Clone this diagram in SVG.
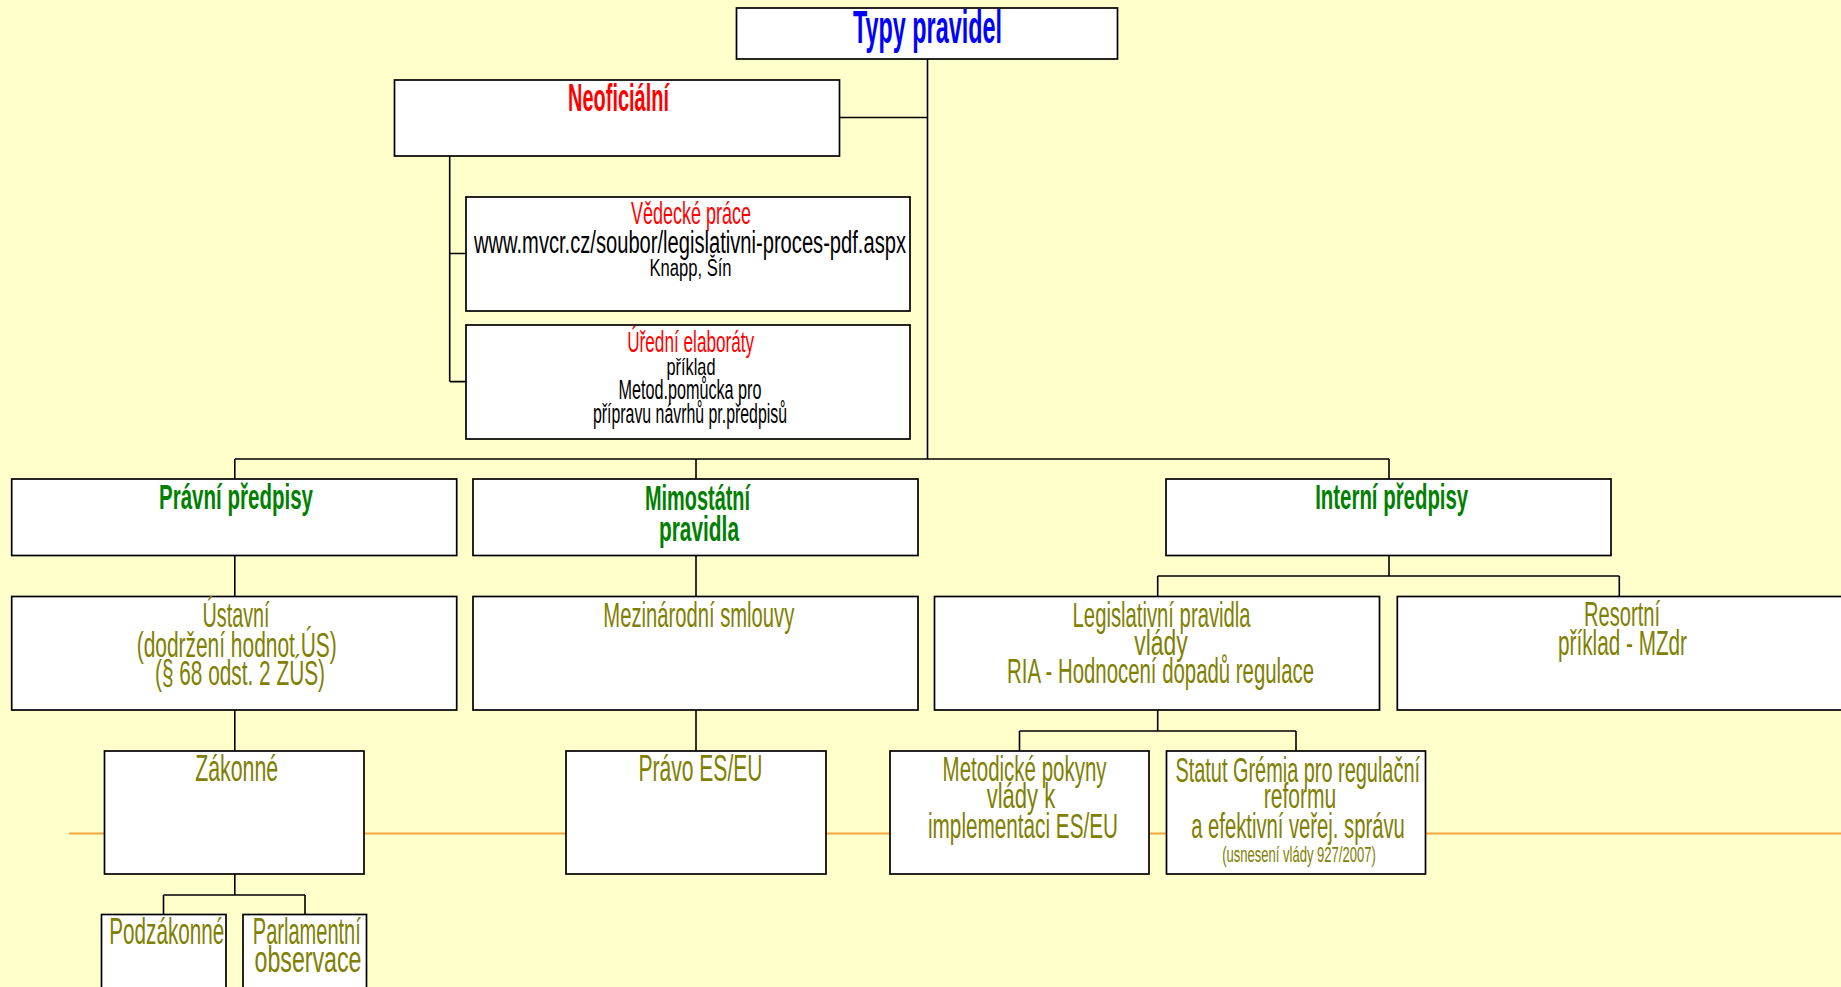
<svg xmlns="http://www.w3.org/2000/svg" width="1841" height="987" viewBox="0 0 1841 987">
<style>
.box{fill:#fff;stroke:#000;stroke-width:1.7}
.ln{fill:none;stroke:#000;stroke-width:1.6}
text{font-family:"Liberation Sans",Arial,sans-serif;text-anchor:middle}
.b{font-weight:bold}
.blue{fill:#0000ff}
.red{fill:#ff0000}
.grn{fill:#008000}
.olv{fill:#808000}
.blk{fill:#000}
</style>
<rect x="0" y="0" width="1841" height="987" fill="#ffffcc"/>
<line x1="69" y1="833.5" x2="1841" y2="833.5" stroke="#f2a63a" stroke-width="2"/>

<g id="connectors">
<path class="ln" d="M927.5 59V459M839.5 117.5H927.5"/>
<path class="ln" d="M449.7 156V381.6M449.7 253.5H466M449.7 381.6H466"/>
<path class="ln" d="M234.8 459H1389M234.8 459V479M696 459V479M1389 459V479"/>
<path class="ln" d="M234.8 555.5V596.5M696 555.5V596.5"/>
<path class="ln" d="M1389 555.5V576M1157.7 576H1619.3M1157.7 576V596.5M1619.3 576V596.5"/>
<path class="ln" d="M234.8 710V751M696 710V751"/>
<path class="ln" d="M1157.7 710V731M1019.5 731H1296M1019.5 731V751M1296 731V751"/>
<path class="ln" d="M234.8 874V895M163.5 895H305M163.5 895V914.5M305 895V914.5"/>
</g>

<g id="typy">
<rect class="box" x="736.5" y="8" width="381" height="51"/>
<text class="b blue" x="927.5" y="43" font-size="46" textLength="149" lengthAdjust="spacingAndGlyphs">Typy pravidel</text>
</g>

<g id="neoficialni">
<rect class="box" x="394.5" y="80" width="445" height="76"/>
<text class="b red" x="618.5" y="111" font-size="38" textLength="101" lengthAdjust="spacingAndGlyphs">Neoficiální</text>
</g>

<g id="vedecke">
<rect class="box" x="466" y="197" width="444" height="114"/>
<text class="red" x="691" y="224" font-size="32" textLength="120" lengthAdjust="spacingAndGlyphs">Vědecké práce</text>
<text class="blk" x="690" y="252.5" font-size="31" textLength="432" lengthAdjust="spacingAndGlyphs">www.mvcr.cz/soubor/legislativni-proces-pdf.aspx</text>
<text class="blk" x="690.5" y="276" font-size="23" textLength="82" lengthAdjust="spacingAndGlyphs">Knapp, Šín</text>
</g>

<g id="uredni">
<rect class="box" x="466" y="325" width="444" height="114"/>
<text class="red" x="690.7" y="351.7" font-size="29" textLength="127" lengthAdjust="spacingAndGlyphs">Úřední elaboráty</text>
<text class="blk" x="691" y="375" font-size="24" textLength="49" lengthAdjust="spacingAndGlyphs">příklad</text>
<text class="blk" x="690" y="399.3" font-size="28" textLength="143" lengthAdjust="spacingAndGlyphs">Metod.pomůcka pro</text>
<text class="blk" x="690" y="423.3" font-size="27" textLength="194" lengthAdjust="spacingAndGlyphs">přípravu návrhů pr.předpisů</text>
</g>

<g id="pravni">
<rect class="box" x="11.7" y="479" width="445" height="76.5"/>
<text class="b grn" x="236" y="509.3" font-size="35" textLength="154" lengthAdjust="spacingAndGlyphs">Právní předpisy</text>
</g>

<g id="mimostatni">
<rect class="box" x="473" y="479" width="445" height="76.5"/>
<text class="b grn" x="697.5" y="510" font-size="35" textLength="105" lengthAdjust="spacingAndGlyphs">Mimostátní</text>
<text class="b grn" x="699" y="540.7" font-size="35" textLength="80" lengthAdjust="spacingAndGlyphs">pravidla</text>
</g>

<g id="interni">
<rect class="box" x="1166" y="479" width="445" height="76.5"/>
<text class="b grn" x="1391.7" y="509.3" font-size="35" textLength="153" lengthAdjust="spacingAndGlyphs">Interní předpisy</text>
</g>

<g id="ustavni">
<rect class="box" x="11.7" y="596.5" width="445" height="113.5"/>
<text class="olv" x="236" y="626.7" font-size="35" textLength="67" lengthAdjust="spacingAndGlyphs">Ústavní</text>
<text class="olv" x="236.7" y="656.7" font-size="35" textLength="200" lengthAdjust="spacingAndGlyphs">(dodržení hodnot ÚS)</text>
<text class="olv" x="240" y="685" font-size="35" textLength="170" lengthAdjust="spacingAndGlyphs">(§ 68 odst. 2 ZÚS)</text>
</g>

<g id="mezinarodni">
<rect class="box" x="473" y="596.5" width="445" height="113.5"/>
<text class="olv" x="698.8" y="626.7" font-size="35" textLength="191" lengthAdjust="spacingAndGlyphs">Mezinárodní smlouvy</text>
</g>

<g id="legislativni">
<rect class="box" x="934.5" y="596.5" width="445" height="113.5"/>
<text class="olv" x="1161.6" y="626.7" font-size="35" textLength="178" lengthAdjust="spacingAndGlyphs">Legislativní pravidla</text>
<text class="olv" x="1161" y="655" font-size="35" textLength="53.5" lengthAdjust="spacingAndGlyphs">vlády</text>
<text class="olv" x="1160.5" y="683.3" font-size="35" textLength="307" lengthAdjust="spacingAndGlyphs">RIA - Hodnocení dopadů regulace</text>
</g>

<g id="resortni">
<rect class="box" x="1397.3" y="596.5" width="446" height="113.5"/>
<text class="olv" x="1622" y="626" font-size="35" textLength="76" lengthAdjust="spacingAndGlyphs">Resortní</text>
<text class="olv" x="1622.5" y="655" font-size="35" textLength="129" lengthAdjust="spacingAndGlyphs">příklad - MZdr</text>
</g>

<g id="zakonne">
<rect class="box" x="104.5" y="751" width="259.5" height="123"/>
<text class="olv" x="236.7" y="780.7" font-size="37" textLength="83" lengthAdjust="spacingAndGlyphs">Zákonné</text>
</g>

<g id="pravo-es-eu">
<rect class="box" x="566" y="751" width="260" height="123"/>
<text class="olv" x="700.5" y="780.7" font-size="37" textLength="124" lengthAdjust="spacingAndGlyphs">Právo ES/EU</text>
</g>

<g id="metodicke">
<rect class="box" x="890" y="751" width="259" height="123"/>
<text class="olv" x="1024.6" y="781" font-size="35" textLength="164" lengthAdjust="spacingAndGlyphs">Metodické pokyny</text>
<text class="olv" x="1021" y="808.3" font-size="35" textLength="68.6" lengthAdjust="spacingAndGlyphs">vlády k</text>
<text class="olv" x="1023" y="838.3" font-size="35" textLength="190" lengthAdjust="spacingAndGlyphs">implementaci ES/EU</text>
</g>

<g id="statut">
<rect class="box" x="1166.5" y="751" width="259" height="123"/>
<text class="olv" x="1297.7" y="781.7" font-size="35" textLength="244.6" lengthAdjust="spacingAndGlyphs">Statut Grémia pro regulační</text>
<text class="olv" x="1300" y="808.3" font-size="35" textLength="72.5" lengthAdjust="spacingAndGlyphs">reformu</text>
<text class="olv" x="1298" y="838.3" font-size="35" textLength="213.6" lengthAdjust="spacingAndGlyphs">a efektivní veřej. správu</text>
<text class="olv" x="1299" y="861.7" font-size="22" textLength="153.6" lengthAdjust="spacingAndGlyphs">(usnesení vlády 927/2007)</text>
</g>

<g id="podzakonne">
<rect class="box" x="101.5" y="914.5" width="124.5" height="100"/>
<text class="olv" x="166.8" y="944" font-size="37" textLength="115" lengthAdjust="spacingAndGlyphs">Podzákonné</text>
</g>

<g id="parlamentni">
<rect class="box" x="243" y="914.5" width="123.5" height="100"/>
<text class="olv" x="306.8" y="944" font-size="37" textLength="108" lengthAdjust="spacingAndGlyphs">Parlamentní</text>
<text class="olv" x="308" y="972.3" font-size="37" textLength="107" lengthAdjust="spacingAndGlyphs">observace</text>
</g>
</svg>
